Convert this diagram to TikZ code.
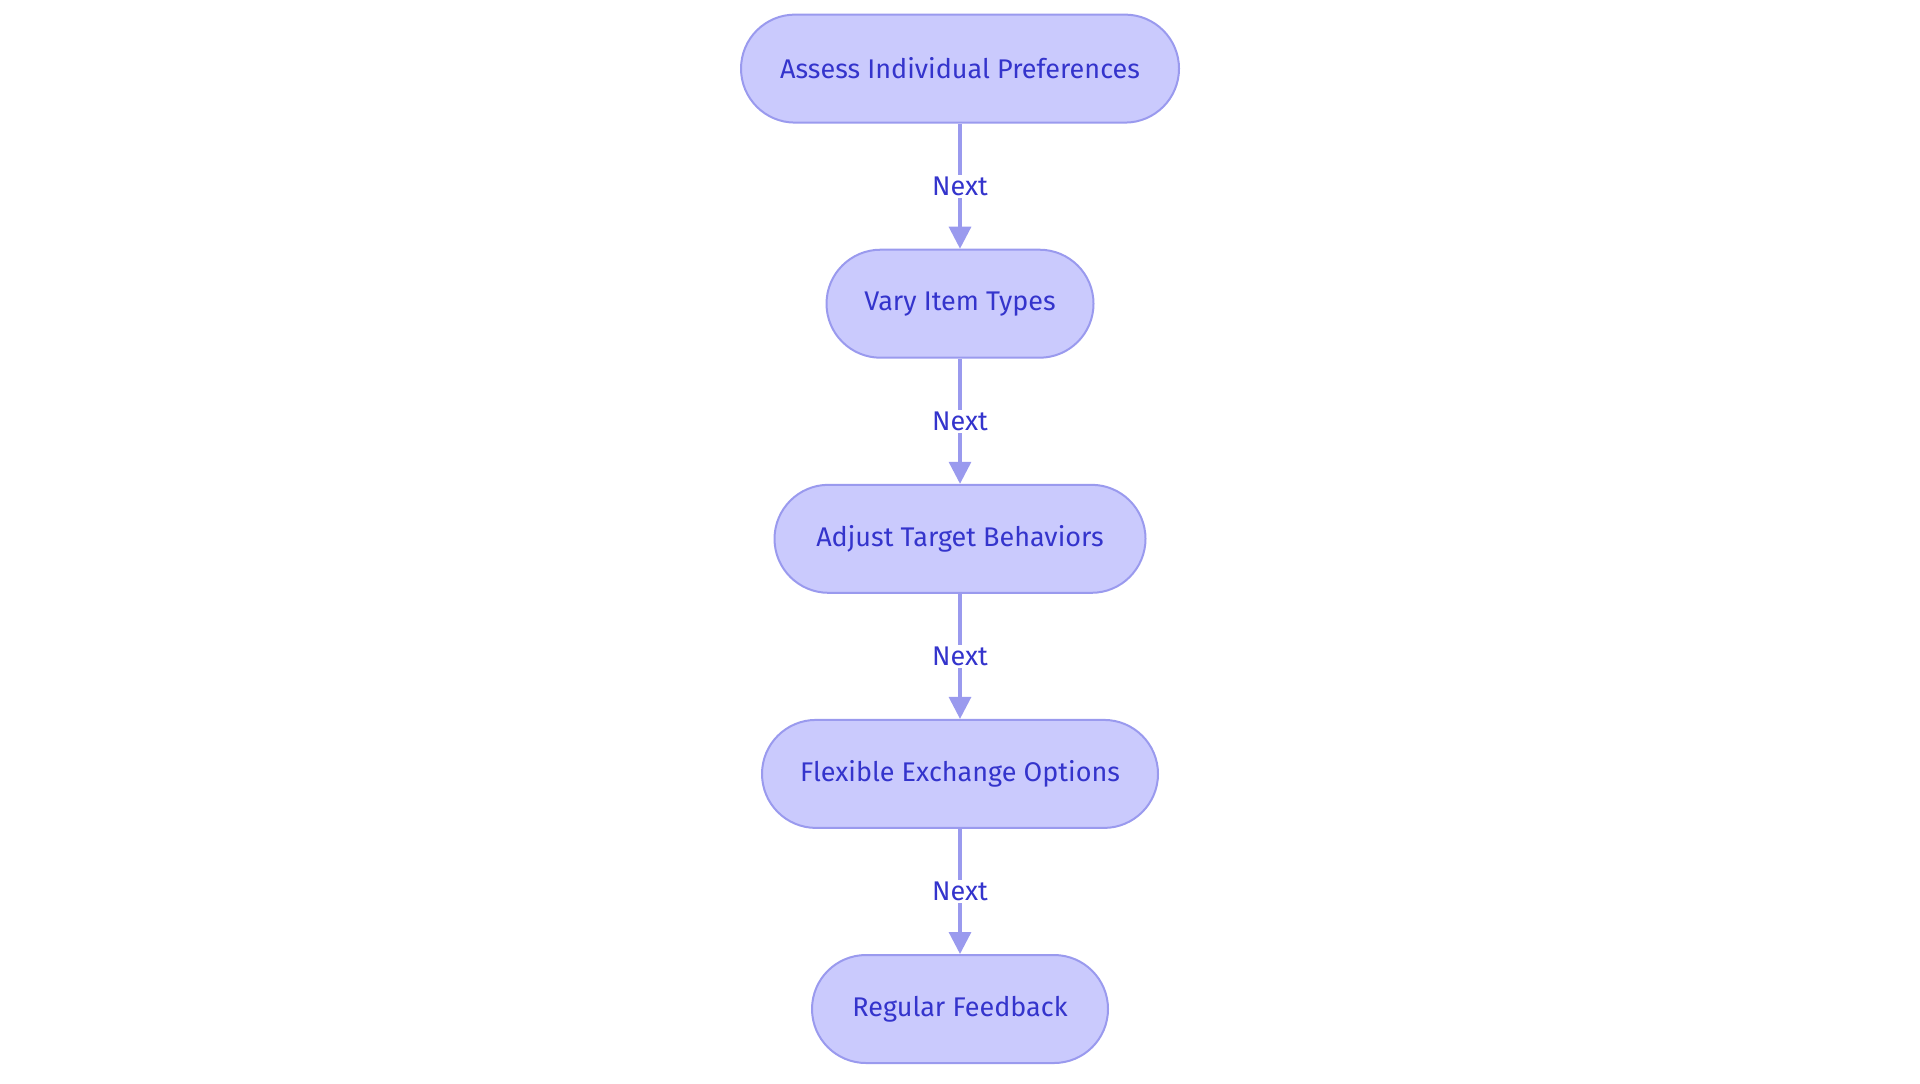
\documentclass[tikz,border=0pt]{standalone}
\usepackage{fontspec}
\setmainfont{Fira Sans}
\usetikzlibrary{arrows.meta}
\definecolor{nfill}{HTML}{CACAFD}
\definecolor{nline}{HTML}{9A9AEE}
\definecolor{ntext}{HTML}{3434CC}
\begin{document}
\begin{tikzpicture}[x=0.5pt,y=-0.5pt,
  box/.style={draw=nline,fill=nfill,line width=1pt,rounded corners=27pt,minimum height=54pt,text=ntext,font=\fontsize{13.5}{15}\selectfont},
  conn/.style={draw=nline,line width=1.6pt,-{Triangle[length=11pt,width=11pt]}},
  lab/.style={fill=white,text=ntext,font=\fontsize{13.5}{15}\selectfont,inner sep=1pt}]
\useasboundingbox (0,0) rectangle (1920,1083);
\node[box,minimum width=219pt] (a) at (960,68.6) {Assess Individual Preferences};
\node[box,minimum width=133.5pt] (b) at (960,303.7) {Vary Item Types};
\node[box,minimum width=185.5pt] (c) at (960,538.8) {Adjust Target Behaviors};
\node[box,minimum width=198pt] (d) at (960,773.9) {Flexible Exchange Options};
\node[box,minimum width=148pt] (e) at (960,1009) {Regular Feedback};
\draw[conn] (a) -- node[lab]{Next} (b);
\draw[conn] (b) -- node[lab]{Next} (c);
\draw[conn] (c) -- node[lab]{Next} (d);
\draw[conn] (d) -- node[lab]{Next} (e);
\end{tikzpicture}
\end{document}
